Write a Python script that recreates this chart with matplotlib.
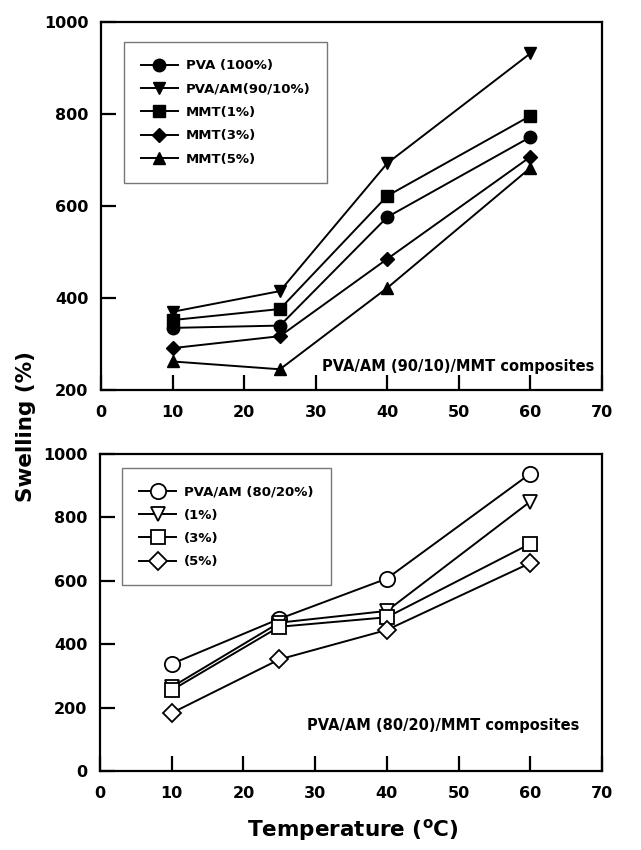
import matplotlib
matplotlib.use("Agg")
import matplotlib.pyplot as plt

plt.rcParams['font.family'] = ['DejaVu Sans']
plt.rcParams['font.weight'] = 'bold'
plt.rcParams['mathtext.default'] = 'bf'

# temperatures (deg C)
temp = [10, 25, 40, 60]

# top panel: PVA/AM (90/10)/MMT composites
top_labels = ['PVA (100%)', 'PVA/AM(90/10%)', 'MMT(1%)', 'MMT(3%)', 'MMT(5%)']
pva_100 = [335, 340, 576, 750]
pva_am_90 = [370, 415, 693, 932]
mmt_1 = [352, 376, 622, 796]
mmt_3 = [291, 317, 485, 707]
mmt_5 = [262, 245, 422, 683]
top_series = [pva_100, pva_am_90, mmt_1, mmt_3, mmt_5]
top_markers = ['o', 'v', 's', 'D', '^']

# bottom panel: PVA/AM (80/20)/MMT composites
bot_labels = ['PVA/AM (80/20%)', '(1%)', '(3%)', '(5%)']
pva_am_80 = [338, 480, 607, 938]
am80_mmt_1 = [265, 468, 505, 850]
am80_mmt_3 = [255, 455, 485, 717]
am80_mmt_5 = [183, 352, 445, 656]
bot_series = [pva_am_80, am80_mmt_1, am80_mmt_3, am80_mmt_5]
bot_markers = ['o', 'v', 's', 'D']

fig = plt.figure(figsize=(6.41, 8.50), dpi=100)
ax1 = fig.add_axes([0.1576, 0.5412, 0.7816, 0.4329])
ax2 = fig.add_axes([0.1560, 0.0929, 0.7832, 0.3730])


def style_axes(ax, ylim, yticks):
    ax.set_xlim(0, 70)
    ax.set_ylim(*ylim)
    ax.set_xticks(range(0, 71, 10))
    ax.set_yticks(yticks)
    ax.tick_params(direction='in', length=11, width=1.6, labelsize=11.5,
                   top=False, right=False)
    ax.tick_params(axis='y', pad=9)
    ax.tick_params(axis='x', pad=11)
    for sp in ax.spines.values():
        sp.set_linewidth(1.6)
    for lab in ax.get_xticklabels() + ax.get_yticklabels():
        lab.set_fontweight('bold')


def add_legend(ax, anchor):
    leg = ax.legend(loc='upper left', bbox_to_anchor=anchor, fontsize=9.5,
                    frameon=True, fancybox=False, handlelength=2.8,
                    labelspacing=0.78, borderpad=1.3, handletextpad=0.6,
                    borderaxespad=0)
    leg.get_frame().set_edgecolor('#555555')
    leg.get_frame().set_linewidth(1.0)
    return leg


for vals, lab, mk in zip(top_series, top_labels, top_markers):
    ms = 9 if mk in ('o', 's') else 8
    if mk == 'D':
        ms = 7.5
    ax1.plot(temp, vals, color='black', lw=1.4, marker=mk, ms=ms,
             mfc='black', mec='black', label=lab)
style_axes(ax1, (200, 1000), [200, 400, 600, 800, 1000])
add_legend(ax1, (0.045, 0.945))
ax1.text(0.985, 0.065, 'PVA/AM (90/10)/MMT composites', transform=ax1.transAxes,
         ha='right', va='center', fontsize=10.5, fontweight='bold')

for vals, lab, mk in zip(bot_series, bot_labels, bot_markers):
    ms = 11 if mk == 'o' else 10
    if mk == 'D':
        ms = 9.5
    ax2.plot(temp, vals, color='black', lw=1.4, marker=mk, ms=ms,
             mfc='white', mec='black', mew=1.3, label=lab)
style_axes(ax2, (0, 1000), [0, 200, 400, 600, 800, 1000])
add_legend(ax2, (0.044, 0.955))
ax2.text(0.955, 0.145, 'PVA/AM (80/20)/MMT composites', transform=ax2.transAxes,
         ha='right', va='center', fontsize=10.5, fontweight='bold')

fig.text(0.040, 0.498, 'Swelling (%)', rotation=90, ha='center', va='center',
         fontsize=15.5, fontweight='bold')
fig.text(0.551, 0.023, 'Temperature ($^{\\rm o}$C)', ha='center', va='center',
         fontsize=15.5, fontweight='bold')

fig.savefig('out.png', dpi=100)
